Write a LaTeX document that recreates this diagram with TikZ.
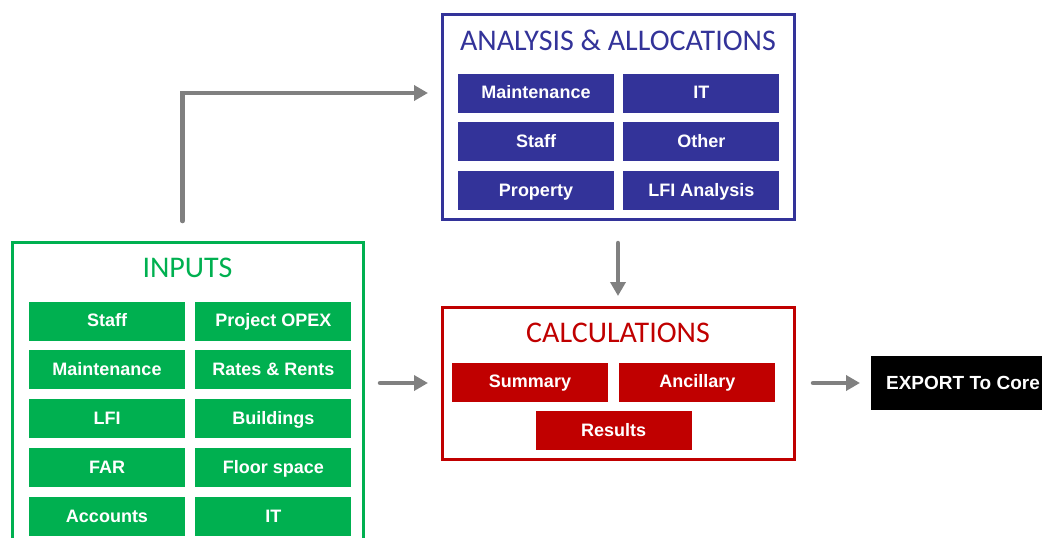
\documentclass[tikz,border=0pt]{standalone}
\usepackage{fontspec}
\usepackage{tikz}
\usetikzlibrary {positioning}
\usetikzlibrary {calc}
\usetikzlibrary {arrows.meta}
\usetikzlibrary {math}
\newfontfamily\headfont{Carlito}
\newfontfamily\cellfont{Liberation Sans}
\definecolor{inGreen}{HTML}{00B050}
\definecolor{anBlue}{HTML}{333399}
\definecolor{calcRed}{HTML}{C00000}
\definecolor{flowGray}{HTML}{808080}
\tikzset{
cellA/.style={rectangle,minimum height=39pt,minimum width=156pt,inner sep=0pt,text height=12pt,text depth=1pt,text=white,font=\cellfont\bfseries\fontsize{18}{20}\selectfont}
}
\tikzset{
frameA/.style={rectangle,line width=3pt,minimum width=352pt,inner sep=0pt,outer sep=0pt}
}
\tikzset{
headA/.style={inner sep=0pt,font=\headfont\fontsize{30}{34}\selectfont}
}
\tikzset{
flowA/.style={draw=flowGray,line width=4.5pt,line cap=round,-{Triangle[length=14pt,width=15pt]}}
}

\begin{document}
\begin{tikzpicture}[x=1pt,y=-1pt]
\useasboundingbox (0,0) rectangle (1042,538);

%------------------------------------------------------------------------------------------------------------%
\node[frameA,draw=inGreen,minimum width=351pt,minimum height=330pt,anchor=north west] (inputs) at (12,242) {};
\node[headA,text=inGreen,below=16pt of inputs.north] (inputsT) {INPUTS};

\node[cellA,fill=inGreen] (in1l) at (107,321) {Staff};
\node[cellA,fill=inGreen,right=10pt of in1l] (in1r) {Project OPEX};
\foreach \txtA/\txtB [count=\i from 2] in {Maintenance/Rates \& Rents,LFI/Buildings,FAR/Floor space,Accounts/IT}
{
\tikzmath{
int \j;
\j = \i-1;
}
\node[cellA,fill=inGreen,below=9.5pt of in\j l] (in\i l) {\txtA};
\node[cellA,fill=inGreen,right=10pt of in\i l] (in\i r) {\txtB};
}

%------------------------------------------------------------------------------------------------------------%
\node[frameA,draw=anBlue,minimum height=205pt,anchor=north west] (analysis) at (442,14) {};
\node[headA,text=anBlue,below=16pt of analysis.north] (analysisT) {ANALYSIS \& ALLOCATIONS};

\node[cellA,fill=anBlue] (an1l) at (536,93) {Maintenance};
\node[cellA,fill=anBlue,right=9pt of an1l] (an1r) {IT};
\foreach \txtA/\txtB [count=\i from 2] in {Staff/Other,Property/LFI Analysis}
{
\tikzmath{
int \j;
\j = \i-1;
}
\node[cellA,fill=anBlue,below=9.5pt of an\j l] (an\i l) {\txtA};
\node[cellA,fill=anBlue,right=9pt of an\i l] (an\i r) {\txtB};
}

%------------------------------------------------------------------------------------------------------------%
\node[frameA,draw=calcRed,minimum height=152pt,anchor=north west] (calc) at (442,307) {};
\node[headA,text=calcRed,below=16pt of calc.north] (calcT) {CALCULATIONS};

\node[cellA,fill=calcRed] (cs1) at (530,382) {Summary};
\node[cellA,fill=calcRed,right=11pt of cs1] (cs2) {Ancillary};
\coordinate (cmid) at ($(cs1.south)!.5!(cs2.south)$);
\node[cellA,fill=calcRed,below=9.5pt of cmid] (cs3) {Results};

%------------------------------------------------------------------------------------------------------------%
\node[rectangle,fill=black,text=white,minimum width=184pt,minimum height=54pt,inner sep=0pt,outer sep=0pt,text height=13pt,text depth=1pt,font=\cellfont\bfseries\fontsize{19}{21}\selectfont,anchor=north west] (export) at (871,356) {EXPORT To Core};

%------------------------------------------------------------------------------------------------------------%
\draw[flowA,shorten <=21pt,shorten >=14pt] ([xshift=-5pt]inputs.north) |- (an1l.west -| analysis.west);
\draw[flowA,shorten <=17pt,shorten >=14pt] (calc.west -| inputs.east) -- (calc.west);
\draw[flowA,shorten <=24pt,shorten >=11pt] (analysis) -- (calc);
\draw[flowA,shorten <=19pt,shorten >=11pt] (calc) -- (export);
%\draw[dashed] (inputs.east) -- ++(1,0);

\end{tikzpicture}
\end{document}
